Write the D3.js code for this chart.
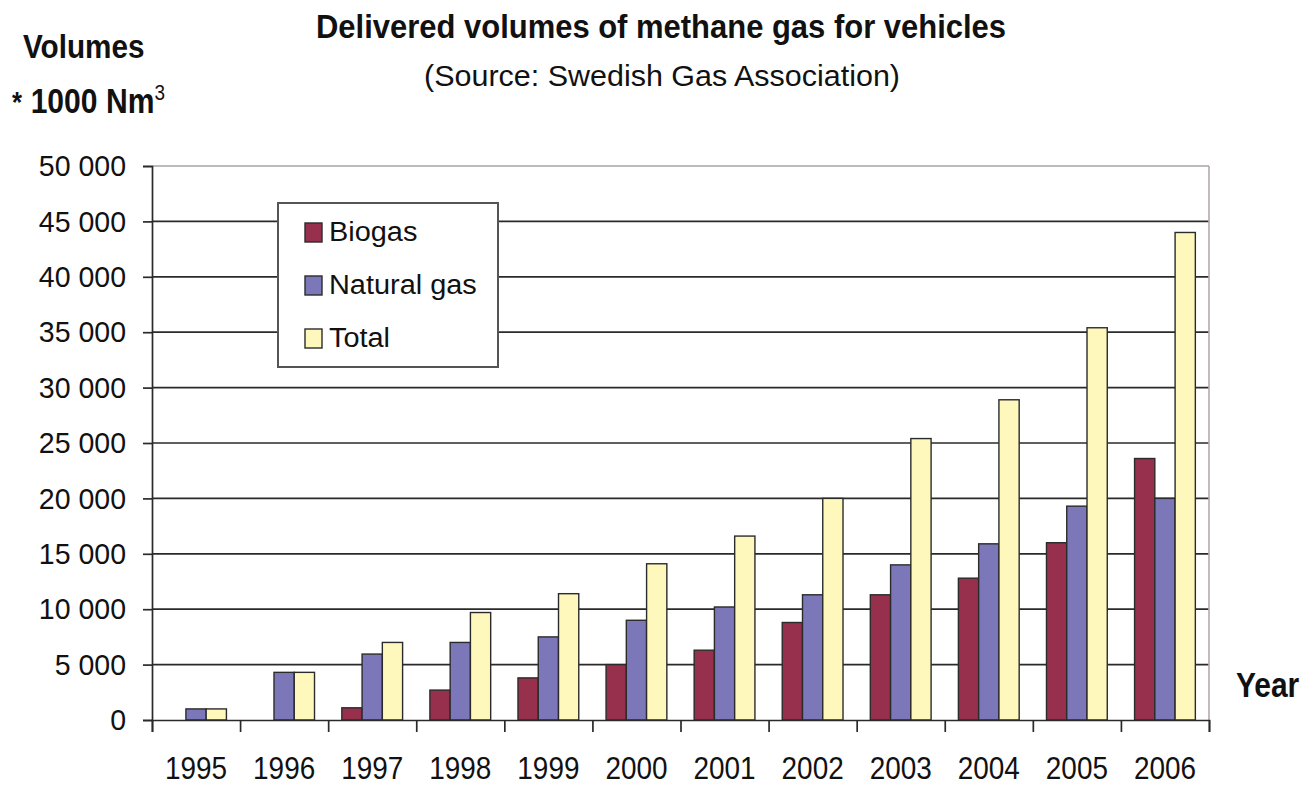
<!DOCTYPE html>
<html>
<head>
<meta charset="utf-8">
<script src="https://cdn.jsdelivr.net/npm/d3@7/dist/d3.min.js"></script>
<style>
  html, body { margin: 0; padding: 0; background: #fff; }
  svg { display: block; font-family: "Liberation Sans", Arial, sans-serif; }
</style>
</head>
<body>
<svg id="chart" width="1305" height="786"></svg>
<script>
// Delivered volumes of methane gas for vehicles, Sweden (1000 Nm3)
const years = ["1995","1996","1997","1998","1999","2000","2001","2002","2003","2004","2005","2006"];
const seriesNames = ["Biogas", "Natural gas", "Total"];
const biogas     = [0, 0, 1100, 2700, 3800, 5000, 6300, 8800, 11300, 12800, 16000, 23600];
const naturalGas = [1000, 4300, 5950, 7000, 7500, 9000, 10200, 11300, 14000, 15900, 19300, 20000];
const total      = [1000, 4300, 7000, 9700, 11400, 14100, 16600, 20000, 25400, 28900, 35400, 44000];
const yTicks = [0, 5000, 10000, 15000, 20000, 25000, 30000, 35000, 40000, 45000, 50000];
const colors = ["#97304c", "#7c77b9", "#fff8bc"];

const svg = d3.select("#chart");
const plotL = 152, plotR = 1209, plotT = 166, plotB = 720;

// horizontal squeeze helper: keep font height, narrow (or widen) the glyphs
function squeeze(sel, k) {
  sel.each(function () {
    const w = this.getComputedTextLength();
    d3.select(this).attr("textLength", w * k).attr("lengthAdjust", "spacingAndGlyphs");
  });
}

const x = d3.scaleBand().domain(years).range([plotL, plotR]).paddingInner(0.31).paddingOuter(0.155);
const xs = d3.scaleBand().domain(seriesNames).range([0, x.bandwidth()]);
const y = d3.scaleLinear().domain([0, 50000]).range([plotB, plotT]);
const fmt = d3.formatLocale({ decimal: ".", thousands: " ", grouping: [3], currency: ["", ""] }).format(",");

// gridlines
svg.append("g").selectAll("line").data(yTicks.filter(v => v > 0)).join("line")
  .attr("x1", plotL).attr("x2", plotR)
  .attr("y1", d => y(d)).attr("y2", d => y(d))
  .attr("stroke", d => d === 50000 ? "#a9a4a4" : "#2a2a2a")
  .attr("stroke-width", 1.7);

// right border of the plot area
svg.append("line").attr("x1", plotR).attr("x2", plotR).attr("y1", y(50000)).attr("y2", plotB)
  .attr("stroke", "#b4aaaa").attr("stroke-width", 1.6);

// bars
const rows = years.map((yr, i) => ({ year: yr, values: [biogas[i], naturalGas[i], total[i]] }));
svg.append("g").selectAll("g").data(rows).join("g")
  .attr("transform", d => `translate(${x(d.year)},0)`)
  .selectAll("rect")
  .data(d => d.values.map((v, j) => ({ name: seriesNames[j], value: v, j })).filter(e => e.value > 0))
  .join("rect")
  .attr("x", d => xs(d.name))
  .attr("width", xs.bandwidth())
  .attr("y", d => y(d.value))
  .attr("height", d => plotB - y(d.value))
  .attr("fill", d => colors[d.j])
  .attr("stroke", "#2b2b2b")
  .attr("stroke-width", 1.4);

// y axis
const yAxis = svg.append("g").attr("transform", `translate(${plotL},0)`)
  .call(d3.axisLeft(y).tickValues(yTicks).tickSize(9).tickPadding(17).tickFormat(fmt));
yAxis.select(".domain").attr("stroke", "#2a2a2a").attr("stroke-width", 1.7);
yAxis.selectAll(".tick line").attr("stroke", "#2a2a2a").attr("stroke-width", 1.7);
yAxis.selectAll(".tick text").attr("font-size", 30).attr("fill", "#111")
  .attr("font-family", "'Liberation Sans', Arial, sans-serif").call(squeeze, 0.95);

// x axis: boundary ticks and centred year labels
const xb = d3.scaleLinear().domain([0, years.length]).range([plotL, plotR]);
const xAxisB = svg.append("g").attr("transform", `translate(0,${plotB})`)
  .call(d3.axisBottom(xb).ticks(years.length).tickSize(12).tickFormat(""));
xAxisB.select(".domain").attr("stroke", "#2a2a2a").attr("stroke-width", 1.7);
xAxisB.selectAll(".tick line").attr("stroke", "#2a2a2a").attr("stroke-width", 1.7);

const xAxisL = svg.append("g").attr("transform", `translate(0,${plotB})`)
  .call(d3.axisBottom(x).tickSize(0).tickPadding(37));
xAxisL.select(".domain").remove();
xAxisL.selectAll(".tick text").attr("font-size", 31).attr("fill", "#111")
  .attr("font-family", "'Liberation Sans', Arial, sans-serif").call(squeeze, 0.9);

// legend
const lg = svg.append("g").attr("transform", "translate(278,203)");
lg.append("rect").attr("width", 220).attr("height", 164).attr("fill", "#fff")
  .attr("stroke", "#555").attr("stroke-width", 2);
const li = lg.selectAll("g").data(seriesNames).join("g")
  .attr("transform", (d, i) => `translate(27,${20 + i * 53})`);
li.append("rect").attr("width", 17).attr("height", 19)
  .attr("fill", (d, i) => colors[i]).attr("stroke", "#2b2b2b").attr("stroke-width", 1.4);
li.append("text").attr("x", 24).attr("y", 18).attr("font-size", 27).attr("fill", "#111")
  .text(d => d).call(squeeze, 1.07);

// titles
svg.append("text").attr("x", 661).attr("y", 38).attr("text-anchor", "middle")
  .attr("font-size", 33).attr("font-weight", "bold").attr("fill", "#111")
  .text("Delivered volumes of methane gas for vehicles").attr("textLength", 690).attr("lengthAdjust", "spacingAndGlyphs");
svg.append("text").attr("x", 662).attr("y", 86).attr("text-anchor", "middle")
  .attr("font-size", 30).attr("fill", "#111")
  .text("(Source: Swedish Gas Association)").attr("textLength", 476).attr("lengthAdjust", "spacingAndGlyphs");

// axis titles (narrowed with a horizontal scale)
svg.append("text").attr("transform", "translate(23,58) scale(0.9,1)")
  .attr("font-size", 33).attr("font-weight", "bold").attr("fill", "#111").text("Volumes");
const unit = svg.append("text").attr("transform", "translate(12,113) scale(0.86,1)").attr("fill", "#111");
unit.append("tspan").attr("font-size", 30).attr("font-weight", "bold").attr("dy", -1).text("*");
unit.append("tspan").attr("dx", 10).attr("dy", 1).attr("font-size", 35).attr("font-weight", "bold").text("1000 Nm");
unit.append("tspan").attr("dy", -13).attr("font-size", 22).text("3");
svg.append("text").attr("transform", "translate(1236,697) scale(0.855,1)")
  .attr("font-size", 35).attr("font-weight", "bold").attr("fill", "#111").text("Year");
</script>
</body>
</html>
